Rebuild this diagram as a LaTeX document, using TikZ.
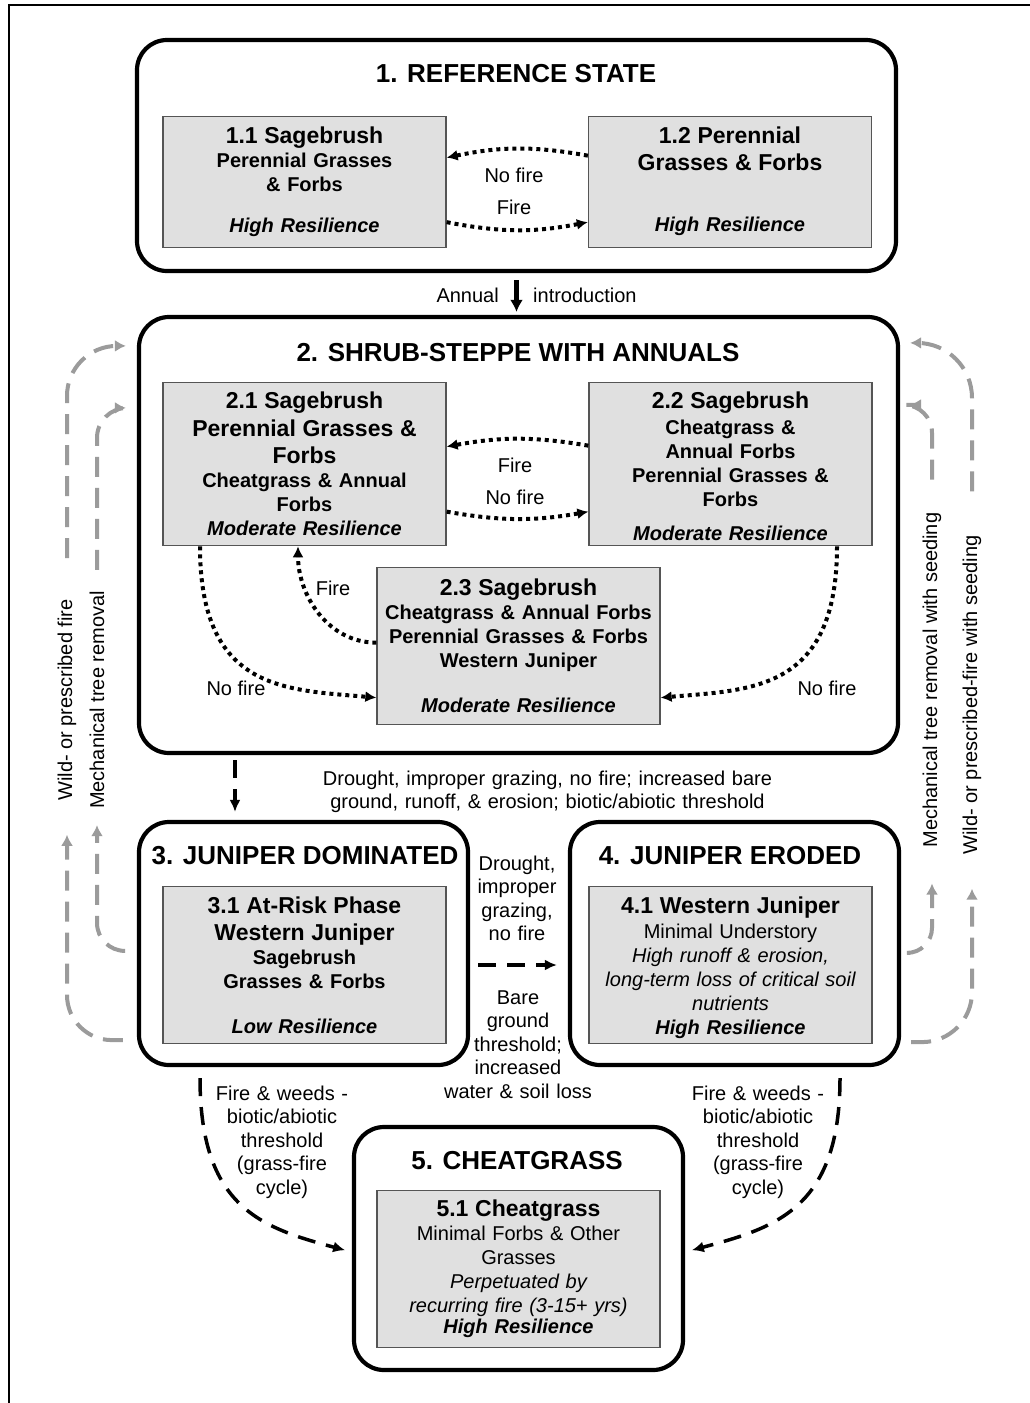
\documentclass[tikz,border=0pt]{standalone}
\usepackage{fontspec}
\setmainfont{Liberation Sans}
\usetikzlibrary{arrows.meta,positioning}

\definecolor{phasefill}{RGB}{224,224,224}
\definecolor{phaseline}{RGB}{85,85,85}
\definecolor{pathgray}{RGB}{155,155,155}

\newcommand{\phasehead}{\fontsize{23}{24}\selectfont}

\begin{document}
\begin{tikzpicture}[
        x=1pt, y=1pt,
        font=\fontsize{20}{23.5}\selectfont,
        >=Latex,
        statebox/.style={draw=black, line width=4.2pt, rounded corners=30pt, inner sep=0pt},
        phase/.style={draw=phaseline, fill=phasefill, line width=1.3pt, align=center, text width=275pt, inner xsep=4pt, inner ysep=0pt, anchor=north, font=\fontsize{20}{24}\selectfont\bfseries},
        statetitle/.style={anchor=base, inner sep=0pt, font=\fontsize{26}{30}\selectfont\bfseries},
        lbl/.style={anchor=base, inner sep=0pt, align=center},
        sidelbl/.style={rotate=90, inner sep=0pt},
        dotlink/.style={line width=4pt, dash pattern=on 4pt off 4pt, -{Latex[length=11pt,width=11pt]}},
        dashlink/.style={line width=3.5pt, dash pattern=on 18pt off 11pt, -{Latex[length=12pt,width=11pt]}},
        graylink/.style={draw=pathgray, line width=4pt, dash pattern=on 20pt off 11pt, -{Latex[length=11pt,width=12pt]}},
        introlink/.style={line width=4.5pt, -{Latex[length=12pt,width=13pt]}}
    ]
        \useasboundingbox (0,0) rectangle (1030,-1403);
        \draw[line width=2pt] (9,-1403) -- (9,-5) -- (1030,-5);

        \node[statebox, minimum width=759pt, minimum height=231pt] (s1) at (516.5,-155.5) {};
        \node[statebox, minimum width=759pt, minimum height=436pt] (s2) at (518.5,-535) {};
        \node[statebox, minimum width=329pt, minimum height=243pt] (s3) at (303.5,-943.5) {};
        \node[statebox, minimum width=329pt, minimum height=243pt] (s4) at (734.5,-943.5) {};
        \node[statebox, minimum width=329pt, minimum height=243pt] (s5) at (518.5,-1248.5) {};

        \node[statetitle] (t1) at (516,-82) {1. REFERENCE STATE};
        \node[statetitle] (t2) at (518,-361) {2. SHRUB-STEPPE WITH ANNUALS};
        \node[statetitle] (t3) at (305,-864) {3. JUNIPER DOMINATED};
        \node[statetitle] (t4) at (730,-864) {4. JUNIPER ERODED};
        \node[statetitle] (t5) at (517,-1169) {5. CHEATGRASS};

        \node[phase, text height=27pt, text depth=104pt] (p11) at (304.5,-116) {{\phasehead 1.1 Sagebrush}\\Perennial Grasses\\\& Forbs\\[17pt]\textit{High Resilience}};
        \node[phase, text height=27pt, text depth=104pt] (p12) at (730,-116) {{\phasehead 1.2 Perennial\\[3pt]Grasses \& Forbs}\\[37pt]\textit{High Resilience}};
        \node[phase, text height=26pt, text depth=137pt] (p21) at (304.5,-382) {{\phasehead 2.1 Sagebrush\\[4pt]Perennial Grasses \&\\[3pt]Forbs}\\Cheatgrass \& Annual\\Forbs\\\textit{Moderate Resilience}};
        \node[phase, text height=26pt, text depth=137pt] (p22) at (730.5,-382) {{\phasehead 2.2 Sagebrush}\\[2pt]Cheatgrass \&\\Annual Forbs\\Perennial Grasses \&\\Forbs\\[10pt]\textit{Moderate Resilience}};
        \node[phase, text height=28pt, text depth=129pt] (p23) at (518.5,-567) {{\phasehead 2.3 Sagebrush}\\Cheatgrass \& Annual Forbs\\Perennial Grasses \& Forbs\\Western Juniper\\[21pt]\textit{Moderate Resilience}};
        \node[phase, text height=27pt, text depth=130pt] (p31) at (304.5,-886) {{\phasehead 3.1 At-Risk Phase\\[3pt]Western Juniper}\\Sagebrush\\Grasses \& Forbs\\[21pt]\textit{Low Resilience}};
        \node[phase, text height=27pt, text depth=130pt] (p41) at (730.5,-886) {{\phasehead 4.1 Western Juniper}\\[1pt]{\mdseries Minimal Understory\\\itshape High runoff \& erosion,\\long-term loss of critical soil\\nutrients}\\\textit{High Resilience}};
        \node[phase, text height=26pt, text depth=131pt] (p51) at (518.5,-1190) {{\phasehead 5.1 Cheatgrass}\\{\mdseries Minimal Forbs \& Other\\Grasses\\\itshape Perpetuated by\\recurring fire (3-15+ yrs)}\\[-3pt]\textit{High Resilience}};

        \draw[dotlink] ([yshift=26.5pt]p12.west) to[bend right=11] ([yshift=24.5pt]p11.east);
        \draw[dotlink] ([yshift=-40pt]p11.east) to[bend right=11] ([yshift=-40pt]p12.west);
        \node[lbl] (nofireA) at (514,-182) {No fire};
        \node[lbl] (fireA) at (514,-214) {Fire};

        \draw[introlink, shorten <=7pt, shorten >=3pt] (s1.south) -- (s1.south |- s2.north);
        \node[lbl, anchor=base east] (annual) at (499,-302) {Annual};
        \node[lbl, anchor=base west] (intro) at (533,-302) {introduction};

        \draw[dotlink] ([yshift=18.5pt]p22.west) to[bend right=10] ([yshift=17.5pt]p21.east);
        \draw[dotlink] ([yshift=-47.5pt]p21.east) to[bend right=10] ([yshift=-47.5pt]p22.west);
        \node[lbl] (fireB) at (515,-472) {Fire};
        \node[lbl] (nofireB) at (515,-504) {No fire};

        \draw[dotlink] ([yshift=3.5pt]p23.west) to[out=180,in=-90] ([xshift=-6.5pt]p21.south);
        \draw[dotlink] ([xshift=-104.5pt]p21.south) to[out=-90,in=175,out looseness=1.6] ([yshift=-51.5pt]p23.west);
        \draw[dotlink] ([xshift=106.5pt]p22.south) to[out=-90,in=5,out looseness=1.6] ([yshift=-51.5pt]p23.east);
        \node[lbl] (fireC) at (333,-595) {Fire};
        \node[lbl] (nofireL) at (236,-695) {No fire};
        \node[lbl] (nofireR) at (827,-695) {No fire};

        \draw[dashlink, shorten <=5pt, shorten >=8pt] ([xshift=-68.5pt]s3.north |- s2.south) -- ([xshift=-68.5pt]s3.north);
        \node[lbl, text width=480pt] (drought) at (547.5,-785) {Drought, improper grazing, no fire; increased bare\\ground, runoff, \& erosion; biotic/abiotic threshold};

        \draw[dashlink, shorten <=8pt, shorten >=11pt] ([yshift=-21.5pt]s3.east) -- ([yshift=-21.5pt]s4.west);
        \node[lbl, text width=100pt] (drytop) at (517,-870) {Drought,\\improper\\grazing,\\no fire};
        \node[lbl, text width=160pt] (barebot) at (518,-1004) {Bare\\ground\\threshold;\\increased\\water \& soil loss};

        \draw[dashlink, shorten <=11pt, shorten >=7pt] ([xshift=-103.5pt]s3.south) to[out=-90,in=165,out looseness=1.5] ([yshift=-3.5pt]s5.west);
        \draw[dashlink, shorten <=11pt, shorten >=7pt] ([xshift=105.5pt]s4.south) to[out=-90,in=15,out looseness=1.5] ([yshift=-3.5pt]s5.east);
        \node[lbl, text width=150pt] (weedsL) at (282,-1100) {Fire \& weeds -\\biotic/abiotic\\threshold\\(grass-fire\\cycle)};
        \node[lbl, text width=150pt] (weedsR) at (758,-1100) {Fire \& weeds -\\biotic/abiotic\\threshold\\(grass-fire\\cycle)};

        \node[sidelbl] (wildL) at (67,-700) {Wild- or prescribed fire};
        \node[sidelbl] (mechL) at (97,-700) {Mechanical tree removal};
        \node[sidelbl] (mechR) at (932,-680) {Mechanical tree removal with seeding};
        \node[sidelbl] (wildR) at (972,-695) {Wild- or prescribed-fire with seeding};

        \draw[graylink, rounded corners=50pt, shorten <=41pt, shorten >=11pt] (wildL.east) |- ([yshift=-31pt]s2.north west);
        \draw[graylink, rounded corners=30pt, shorten <=21pt, shorten >=11pt] (mechL.east) |- ([yshift=-93pt]s2.north west);
        \draw[graylink, rounded corners=45pt, shorten <=14pt, shorten >=34pt] ([yshift=27pt]s3.south west) -| (wildL.west);
        \draw[graylink, rounded corners=28pt, shorten <=12pt, shorten >=16pt] ([yshift=-131pt]s3.north west) -| (mechL.west);

        \draw[graylink, rounded corners=28pt, shorten <=33pt, shorten >=10pt] (mechR.east) |- ([yshift=-90pt]s2.north east);
        \draw[graylink, rounded corners=55pt, shorten <=44pt, shorten >=10pt] (wildR.east) |- ([yshift=-28pt]s2.north east);
        \draw[graylink, rounded corners=25pt, shorten <=9pt, shorten >=36pt] ([yshift=-133pt]s4.north east) -| (mechR.west);
        \draw[graylink, rounded corners=50pt, shorten <=10pt, shorten >=34pt] ([yshift=25pt]s4.south east) -| (wildR.west);
\end{tikzpicture}
\end{document}
